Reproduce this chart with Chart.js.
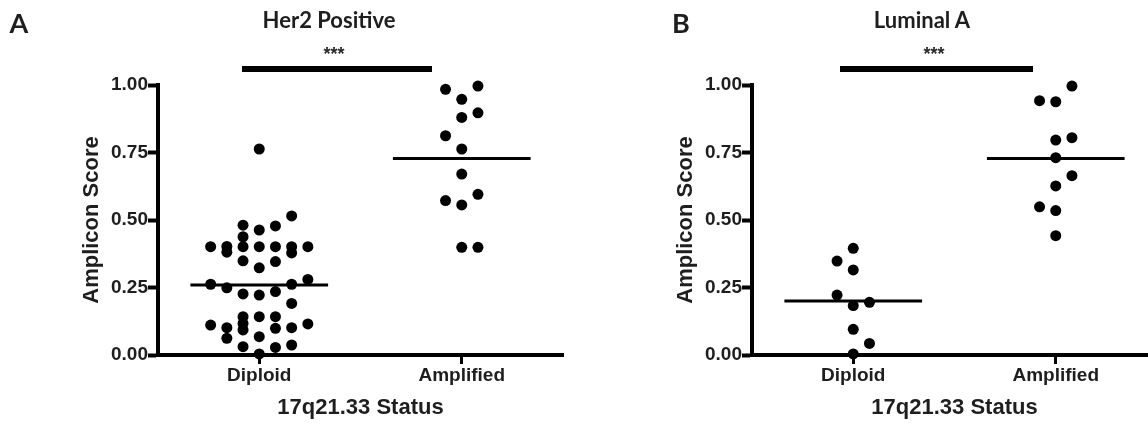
<!DOCTYPE html>
<html lang="en">
<head>
  <meta charset="UTF-8" />
  <title>17q21.33 Amplicon Score</title>
  <script src="https://cdn.jsdelivr.net/npm/chart.js"></script>
  <style>
    * { margin: 0; padding: 0; box-sizing: border-box; }
    body {
      width: 1148px;
      height: 425px;
      overflow: hidden;
      background: #fff;
      position: relative;
      color: #1e1e1e;
    }
    .panel { position: absolute; top: 0; width: 580px; height: 425px; }
    .panel canvas { position: absolute; left: 0; top: 0; }
    .centered { position: absolute; transform: translate(-50%, -50%); white-space: nowrap; line-height: 1; }
    .letter { font: bold 27px Lato, sans-serif; }
    .title { font: bold 22px Lato, sans-serif; }
    .stars { font: bold 18px "Liberation Sans", Arial, sans-serif; color: #2a2a2a; }
    .sigbar { position: absolute; height: 6px; background: #000; }
  </style>
</head>
<body>
  <!-- Panel A -->
  <div class="panel" style="left:0"><canvas id="her2" width="580" height="425"></canvas></div>
  <div class="centered letter" style="left:19px; top:22px">A</div>
  <div class="centered title" style="left:329px; top:19px">Her2 Positive</div>
  <div class="centered stars" style="left:334px; top:54px">***</div>
  <div class="sigbar" style="left:242px; top:66px; width:190px"></div>

  <!-- Panel B -->
  <div class="panel" style="left:594px"><canvas id="luminal" width="580" height="425"></canvas></div>
  <div class="centered letter" style="left:681px; top:22px">B</div>
  <div class="centered title" style="left:922px; top:19px">Luminal A</div>
  <div class="centered stars" style="left:934px; top:54px">***</div>
  <div class="sigbar" style="left:840px; top:66px; width:193px"></div>

  <script>
    // categories and ticks
    const categories = ['Diploid', 'Amplified'];
    const yTicks = [0, 0.25, 0.5, 0.75, 1];

    // Her2 Positive - Diploid
    const her2DiploidValues = [0.763, 0.515, 0.481, 0.463, 0.478, 0.438, 0.401, 0.402, 0.381, 0.401,
      0.401, 0.401, 0.401, 0.378, 0.401, 0.349, 0.346, 0.323, 0.262, 0.249,
      0.262, 0.280, 0.226, 0.222, 0.235, 0.191, 0.142, 0.117, 0.093, 0.142,
      0.142, 0.111, 0.101, 0.062, 0.099, 0.101, 0.115, 0.068, 0.031, 0.028,
      0.037, 0.004];
    const her2DiploidCols = [0, 2, -1, 0, 1, -1, -3, -2, -2, -1,
      0, 1, 2, 2, 3, -1, 1, 0, -3, -2,
      2, 3, -1, 0, 1, 2, -1, -1, -1, 0,
      1, -3, -2, -2, 1, 2, 3, 0, -1, 1,
      2, 0];
    // Her2 Positive - Amplified
    const her2AmpValues = [0.984, 0.996, 0.947, 0.880, 0.897, 0.812, 0.763, 0.670, 0.572, 0.556, 0.595, 0.399, 0.399];
    const her2AmpCols = [-1, 1, 0, 0, 1, -1, 0, 0, -1, 0, 1, 0, 1];
    const her2Means = [0.259, 0.728];

    // Luminal A - Diploid
    const lumDiploidValues = [0.395, 0.348, 0.315, 0.222, 0.183, 0.195, 0.095, 0.043, 0.004];
    const lumDiploidCols = [0, -1, 0, -1, 0, 1, 0, 1, 0];
    // Luminal A - Amplified
    const lumAmpValues = [0.996, 0.942, 0.938, 0.796, 0.805, 0.731, 0.664, 0.626, 0.549, 0.535, 0.442];
    const lumAmpCols = [1, -1, 0, 0, 1, 0, 1, 0, -1, 0, 0];
    const lumMeans = [0.200, 0.728];

    const JITTER = 0.08;     // horizontal spacing of a dot column, in category units
    const MEAN_HALF = 0.34;  // half width of mean bar
    const tickFont = { family: '"Liberation Sans", Arial, sans-serif', size: 19, weight: 'bold' };
    const titleFont = { family: '"Liberation Sans", Arial, sans-serif', size: 22, weight: 'bold', lineHeight: 1.2 };

    function dots(cat, values, cols) {
      return {
        type: 'scatter',
        data: values.map((v, i) => ({ x: cat + cols[i] * JITTER, y: v })),
        pointRadius: 5.5,
        pointHoverRadius: 5.5,
        backgroundColor: '#000',
        borderWidth: 0,
        clip: false
      };
    }

    function meanLine(cat, m) {
      return {
        type: 'line',
        data: [{ x: cat - MEAN_HALF, y: m }, { x: cat + MEAN_HALF, y: m }],
        borderColor: '#000',
        borderWidth: 3,
        pointRadius: 0,
        clip: false
      };
    }

    function makePanel(id, diploid, amplified, means) {
      new Chart(document.getElementById(id), {
        data: {
          datasets: [
            dots(0, diploid[0], diploid[1]),
            dots(1, amplified[0], amplified[1]),
            meanLine(0, means[0]),
            meanLine(1, means[1])
          ]
        },
        options: {
          responsive: false,
          animation: false,
          events: [],
          layout: { padding: { top: 85, right: 17, bottom: 0, left: 0 } },
          plugins: { legend: { display: false }, tooltip: { enabled: false } },
          scales: {
            x: {
              type: 'linear',
              min: -0.5,
              max: 1.5,
              afterBuildTicks: s => { s.ticks = categories.map((c, i) => ({ value: i })); },
              afterFit: s => { s.height = 70; },
              ticks: {
                autoSkip: false,
                maxRotation: 0,
                padding: 0,
                color: '#1e1e1e',
                font: tickFont,
                callback: v => categories[Math.round(v)]
              },
              grid: { drawOnChartArea: false, tickLength: 9, tickWidth: 3, color: '#000' },
              border: { color: '#000', width: 4 },
              title: { display: true, text: '17q21.33 Status', color: '#1e1e1e', font: titleFont, padding: { top: 0, bottom: 4 } }
            },
            y: {
              min: 0,
              max: 1,
              afterBuildTicks: s => { s.ticks = yTicks.map(v => ({ value: v })); },
              afterFit: s => { s.width = 158; },
              ticks: {
                padding: 0,
                color: '#1e1e1e',
                font: tickFont,
                callback: v => v.toFixed(2)
              },
              grid: { drawOnChartArea: false, tickLength: 10, tickWidth: 4, color: '#000' },
              border: { color: '#000', width: 4 },
              title: { display: true, text: 'Amplicon Score', color: '#1e1e1e', font: titleFont, padding: { top: 79, bottom: 0 } }
            }
          }
        }
      });
    }

    makePanel('her2', [her2DiploidValues, her2DiploidCols], [her2AmpValues, her2AmpCols], her2Means);
    makePanel('luminal', [lumDiploidValues, lumDiploidCols], [lumAmpValues, lumAmpCols], lumMeans);
  </script>
</body>
</html>
